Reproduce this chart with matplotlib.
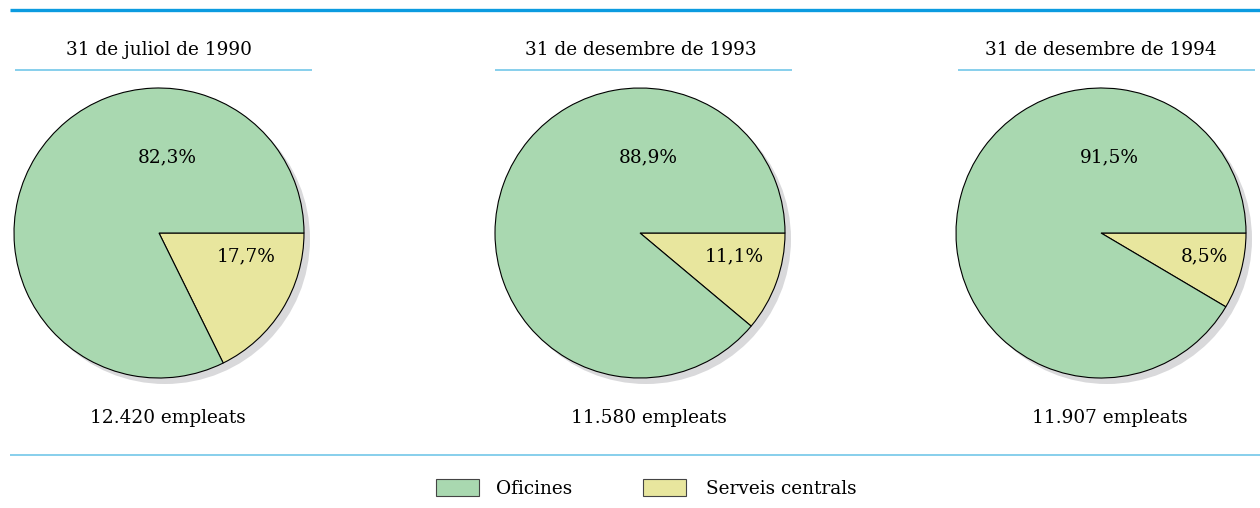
import matplotlib.pyplot as plt
from matplotlib.patches import Circle, Rectangle

# Data
dates = ['31 de juliol de 1990', '31 de desembre de 1993', '31 de desembre de 1994']
oficines = [82.3, 88.9, 91.5]
serveis = [17.7, 11.1, 8.5]
empleats = ['12.420', '11.580', '11.907']
categories = ['Oficines', 'Serveis centrals']

green = '#a9d8b0'
yellow = '#e8e69e'
blue = '#0b9be0'
lightblue = '#7ecbeb'
font = 'DejaVu Serif'
fs = 13.3

W, H = 1260, 508
fig = plt.figure(figsize=(W / 100, H / 100), dpi=100)
ax = fig.add_axes([0, 0, 1, 1])

def fy(y):
    return H - y

centers = [159, 640, 1101]
title_x = [159, 641, 1101]
line_spans = [(15, 312), (495, 792), (958, 1255)]
small_dx = [87, 94, 103]
r = 145
cy = fy(233)

ax.plot([10, W], [fy(10), fy(10)], color=blue, lw=2.4, solid_capstyle='butt')
ax.plot([10, W], [fy(455), fy(455)], color=lightblue, lw=1.3, solid_capstyle='butt')

for i in range(3):
    cx = centers[i]
    # shadow
    ax.add_patch(Circle((cx + 6, cy - 6), r, color='#d9d9db', zorder=1, lw=0))
    ax.pie([serveis[i], oficines[i]], colors=[yellow, green], center=(cx, cy),
           radius=r, startangle=0, counterclock=False, frame=True,
           wedgeprops=dict(edgecolor='black', linewidth=0.8, zorder=2))
    ax.text(cx + 8, fy(157), f'{oficines[i]:.1f}%'.replace('.', ','),
            ha='center', va='center', fontsize=fs, family=font, zorder=3)
    ax.text(cx + small_dx[i], fy(256), f'{serveis[i]:.1f}%'.replace('.', ','),
            ha='center', va='center', fontsize=fs, family=font, zorder=3)
    ax.text(title_x[i], fy(50), dates[i], ha='center', va='center',
            fontsize=fs, family=font)
    x0, x1 = line_spans[i]
    ax.plot([x0, x1], [fy(70), fy(70)], color=lightblue, lw=1.3, solid_capstyle='butt')
    ax.text(cx + 9, fy(418), f'{empleats[i]} empleats', ha='center', va='center',
            fontsize=fs, family=font)

# legend
for x, col, lab, tx in [(436, green, categories[0], 496), (643, yellow, categories[1], 706)]:
    ax.add_patch(Rectangle((x, fy(496)), 43, 17, facecolor=col, edgecolor='#444444', lw=0.8))
    ax.text(tx, fy(489), lab, ha='left', va='center', fontsize=fs, family=font)

ax.set_xlim(0, W)
ax.set_ylim(0, H)
ax.set_aspect('auto')
ax.axis('off')
fig.savefig('out.png', dpi=100)
